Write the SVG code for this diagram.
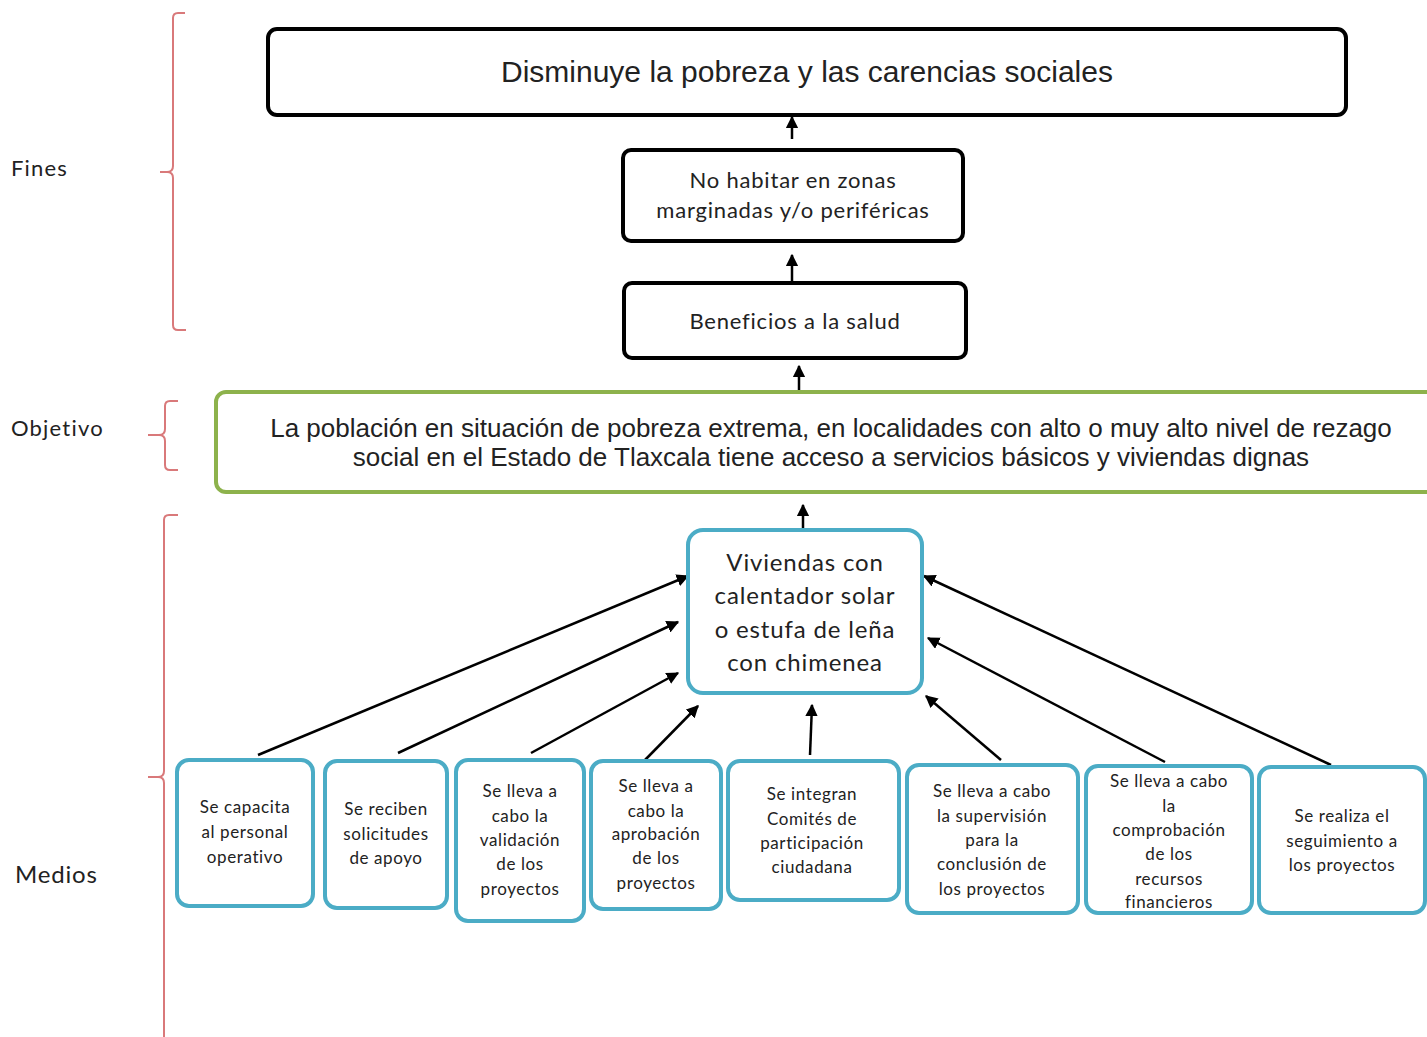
<svg xmlns="http://www.w3.org/2000/svg" width="1427" height="1037" viewBox="0 0 1427 1037">
<defs>
<marker id="ah" viewBox="0 0 10 10" refX="9" refY="5" markerWidth="5" markerHeight="5" orient="auto" markerUnits="strokeWidth">
<path d="M0,0 L10,5 L0,10 z" fill="#000"/>
</marker>
<style>
.blk{fill:#fff;stroke:#000;stroke-width:4}
.grn{fill:#fff;stroke:#8db24c;stroke-width:4}
.blu{fill:#fff;stroke:#4bacc6;stroke-width:4}
.br{fill:none;stroke:#d9797a;stroke-width:2}
.con{stroke:#000;stroke-width:2.5;fill:none;marker-end:url(#ah)}
.t{font-family:Lato,"Open Sans",sans-serif;fill:#222;text-anchor:middle}
.m{font-size:22px;letter-spacing:0.8px}
.a{font-family:"Liberation Sans",Arial,sans-serif;fill:#222;text-anchor:middle}
.lbl{font-family:Lato,"Open Sans",sans-serif;fill:#222;font-size:22px;letter-spacing:1.2px}
.s{font-size:17px;letter-spacing:0.6px}
</style>
</defs>
<rect width="1427" height="1037" fill="#fff"/>
<g id="brackets">
<path class="br" d="M185,13 L178,13 Q173,13 173,18 L173,166 Q173,172 167,172 L160,172 M167,172 Q173,172 173,178 L173,325 Q173,330 178,330 L186,330"/>
<path class="br" d="M178,401 L170,401 Q165,401 165,406 L165,429 Q165,435 159,435 L148,435 M159,435 Q165,435 165,441 L165,465 Q165,470 170,470 L178,470"/>
<path class="br" d="M178,515 L169,515 Q164,515 164,520 L164,771 Q164,777 158,777 L148,777 M158,777 Q164,777 164,783 L164,1037"/>
</g>
<g id="labels">
<text class="lbl" x="11" y="176">Fines</text>
<text class="lbl" x="11" y="436">Objetivo</text>
<text class="lbl" x="15" y="883" font-size="24" style="font-size:24px;letter-spacing:0.8px">Medios</text>
</g>
<g id="connectors">
<line class="con" x1="792" y1="139" x2="792" y2="117"/>
<line class="con" x1="792" y1="283" x2="792" y2="255"/>
<line class="con" x1="799" y1="390" x2="799" y2="366"/>
<line class="con" x1="803" y1="528" x2="803" y2="505"/>
<line class="con" x1="258" y1="755" x2="688" y2="576"/>
<line class="con" x1="398" y1="753" x2="678" y2="622"/>
<line class="con" x1="531" y1="753" x2="678" y2="673"/>
<line class="con" x1="645" y1="760" x2="698" y2="706"/>
<line class="con" x1="810" y1="755" x2="812" y2="705"/>
<line class="con" x1="1001" y1="760" x2="926" y2="696"/>
<line class="con" x1="1165" y1="762" x2="928" y2="638"/>
<line class="con" x1="1331" y1="765" x2="924" y2="576"/>
</g>
<g id="n-fin">
<rect class="blk" x="268" y="29" width="1078" height="86" rx="9"/>
<text class="a" x="807" y="82" font-size="30">Disminuye la pobreza y las carencias sociales</text>
</g>
<g id="n-habitar">
<rect class="blk" x="623" y="150" width="340" height="91" rx="8"/>
<text class="t m" x="793" y="188">No habitar en zonas</text>
<text class="t m" x="793" y="218">marginadas y/o periféricas</text>
</g>
<g id="n-salud">
<rect class="blk" x="624" y="283" width="342" height="75" rx="8"/>
<text class="t m" x="795" y="329">Beneficios a la salud</text>
</g>
<g id="n-objetivo">
<rect class="grn" x="216" y="392" width="1230" height="100" rx="10"/>
<text class="a" x="831" y="437" font-size="26">La población en situación de pobreza extrema, en localidades con alto o muy alto nivel de rezago</text>
<text class="a" x="831" y="466" font-size="26">social en el Estado de Tlaxcala tiene acceso a servicios básicos y viviendas dignas</text>
</g>
<g id="n-viviendas">
<rect class="blu" x="688" y="530" width="234" height="163" rx="15"/>
<text class="t" x="805" y="571" style="font-size:24px;letter-spacing:0.85px">Viviendas con</text>
<text class="t" x="805" y="604" style="font-size:24px;letter-spacing:0.85px">calentador solar</text>
<text class="t" x="805" y="638" style="font-size:24px;letter-spacing:0.85px">o estufa de leña</text>
<text class="t" x="805" y="671" style="font-size:24px;letter-spacing:0.85px">con chimenea</text>
</g>
<g id="n-m1">
<rect class="blu" x="177" y="760" width="136" height="146" rx="12"/>
<text class="t s" x="245" y="813">Se capacita</text>
<text class="t s" x="245" y="838">al personal</text>
<text class="t s" x="245" y="863">operativo</text>
</g>
<g id="n-m2">
<rect class="blu" x="325" y="761" width="122" height="147" rx="12"/>
<text class="t s" x="386" y="815">Se reciben</text>
<text class="t s" x="386" y="840">solicitudes</text>
<text class="t s" x="386" y="864">de apoyo</text>
</g>
<g id="n-m3">
<rect class="blu" x="456" y="760" width="128" height="161" rx="12"/>
<text class="t s" x="520" y="797">Se lleva a</text>
<text class="t s" x="520" y="822">cabo la</text>
<text class="t s" x="520" y="846">validación</text>
<text class="t s" x="520" y="870">de los</text>
<text class="t s" x="520" y="895">proyectos</text>
</g>
<g id="n-m4">
<rect class="blu" x="591" y="761" width="130" height="148" rx="12"/>
<text class="t s" x="656" y="792">Se lleva a</text>
<text class="t s" x="656" y="817">cabo la</text>
<text class="t s" x="656" y="840">aprobación</text>
<text class="t s" x="656" y="864">de los</text>
<text class="t s" x="656" y="889">proyectos</text>
</g>
<g id="n-m5">
<rect class="blu" x="728" y="761" width="171" height="139" rx="12"/>
<text class="t s" x="812" y="800">Se integran</text>
<text class="t s" x="812" y="825">Comités de</text>
<text class="t s" x="812" y="849">participación</text>
<text class="t s" x="812" y="873">ciudadana</text>
</g>
<g id="n-m6">
<rect class="blu" x="907" y="765" width="171" height="148" rx="12"/>
<text class="t s" x="992" y="797">Se lleva a cabo</text>
<text class="t s" x="992" y="822">la supervisión</text>
<text class="t s" x="992" y="846">para la</text>
<text class="t s" x="992" y="870">conclusión de</text>
<text class="t s" x="992" y="895">los proyectos</text>
</g>
<g id="n-m7">
<rect class="blu" x="1086" y="766" width="166" height="147" rx="12"/>
<text class="t s" x="1169" y="787">Se lleva a cabo</text>
<text class="t s" x="1169" y="812">la</text>
<text class="t s" x="1169" y="836">comprobación</text>
<text class="t s" x="1169" y="860">de los</text>
<text class="t s" x="1169" y="885">recursos</text>
<text class="t s" x="1169" y="908">financieros</text>
</g>
<g id="n-m8">
<rect class="blu" x="1259" y="767" width="166" height="146" rx="12"/>
<text class="t s" x="1342" y="822">Se realiza el</text>
<text class="t s" x="1342" y="847">seguimiento a</text>
<text class="t s" x="1342" y="871">los proyectos</text>
</g>
</svg>
